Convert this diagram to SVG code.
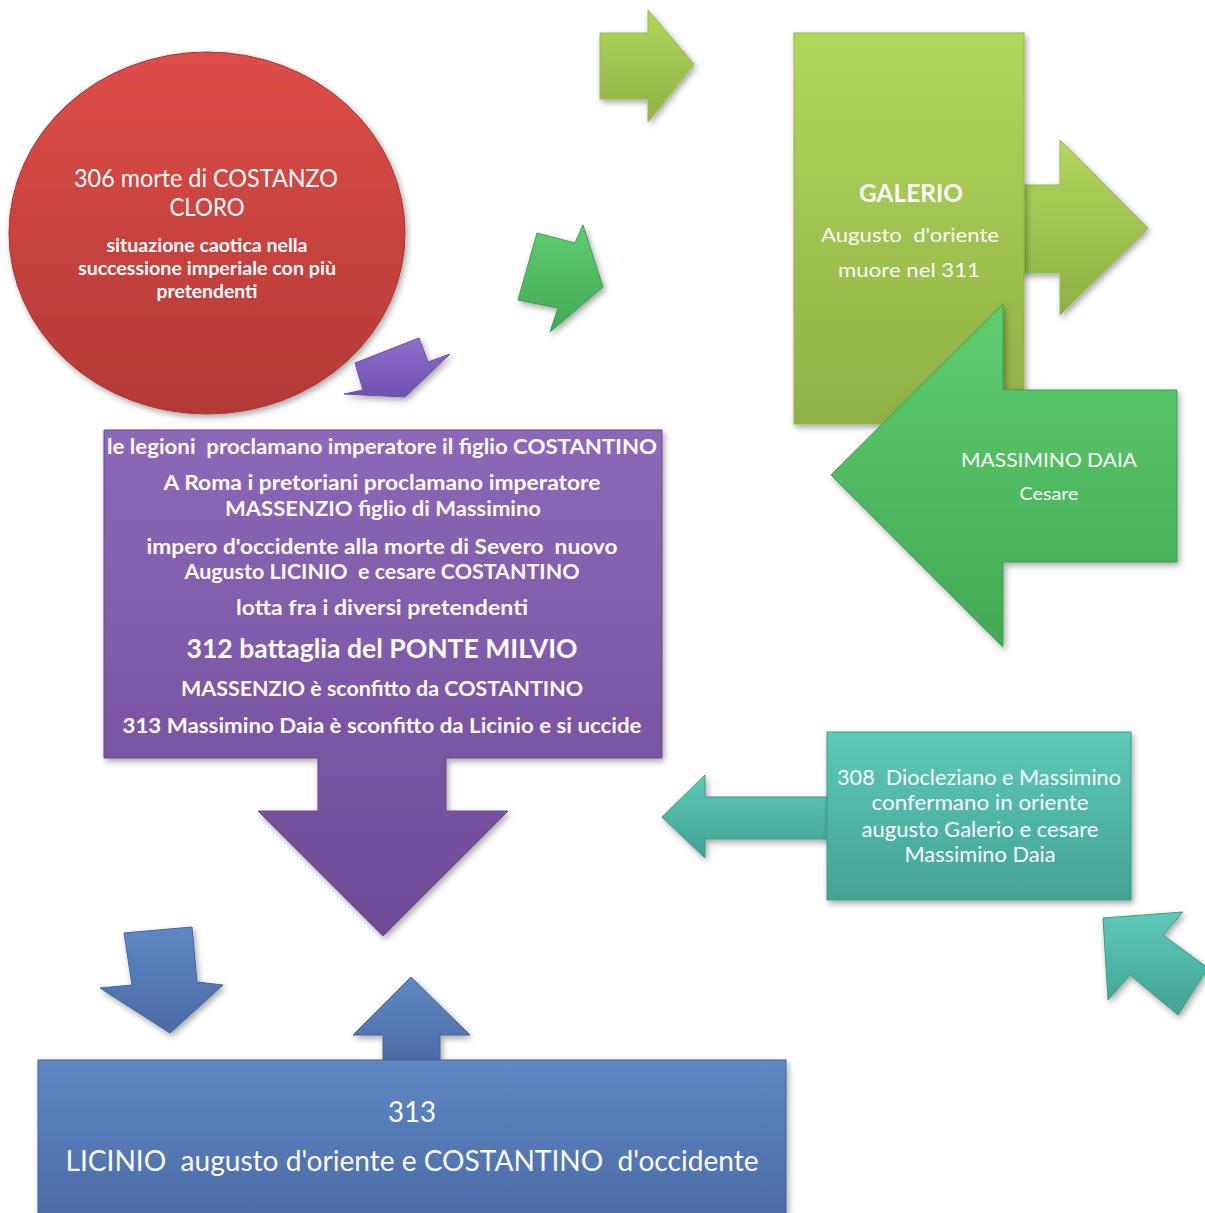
<svg xmlns="http://www.w3.org/2000/svg" width="1205" height="1213" viewBox="0 0 1205 1213">
<defs>
<style>
text{font-family:Lato,"Open Sans","Liberation Sans",sans-serif;fill:#fbfbfb;text-anchor:middle;white-space:pre}
.b{font-weight:bold}
.shape{filter:url(#sh)}
</style>
<filter id="sh" x="-20%" y="-20%" width="140%" height="140%">
<feDropShadow dx="2" dy="3" stdDeviation="3" flood-color="#000" flood-opacity="0.35"/>
</filter>
<linearGradient id="gRed" x1="0" y1="0" x2="0" y2="1"><stop offset="0" stop-color="#de4d49"/><stop offset="1" stop-color="#b33936"/></linearGradient>
<linearGradient id="gLime" x1="0" y1="0" x2="0" y2="1"><stop offset="0" stop-color="#b1d85c"/><stop offset="1" stop-color="#8fb046"/></linearGradient>
<linearGradient id="gGreen" x1="0" y1="0" x2="0" y2="1"><stop offset="0" stop-color="#5fcd70"/><stop offset="1" stop-color="#43a954"/></linearGradient>
<linearGradient id="gPurple" x1="0" y1="0" x2="0" y2="1"><stop offset="0" stop-color="#8d68b8"/><stop offset="1" stop-color="#6e4a96"/></linearGradient>
<linearGradient id="gViolet" x1="0" y1="0" x2="0" y2="1"><stop offset="0" stop-color="#8e70cc"/><stop offset="1" stop-color="#7050b0"/></linearGradient>
<linearGradient id="gTeal" x1="0" y1="0" x2="0" y2="1"><stop offset="0" stop-color="#5ecab9"/><stop offset="1" stop-color="#43a293"/></linearGradient>
<linearGradient id="gBlue" x1="0" y1="0" x2="0" y2="1"><stop offset="0" stop-color="#5f88c4"/><stop offset="1" stop-color="#4b6aa5"/></linearGradient>
</defs>
<rect width="1205" height="1213" fill="#ffffff"/>

<g id="connectors">
<polygon class="shape" points="600,33 648,33 648,10 694,64 648,122 648,99 600,99" fill="url(#gLime)" stroke="#9aba4f" stroke-width="1"/>
<polygon class="shape" points="537,233 575,243 583,225 603,287 550,332 558,308 518,300" fill="url(#gGreen)" stroke="#3e9f50" stroke-width="1"/>
<polygon class="shape" points="344,394 363,390 355,363 419,338 428,362 450,354 405,397" fill="url(#gViolet)" stroke="#6c50a8" stroke-width="1"/>
<polygon class="shape" points="1103,918 1183,912 1163,935 1208,968 1178,1015 1130,975 1108,1000" fill="url(#gTeal)" stroke="#3f9a8c" stroke-width="1"/>
<polygon class="shape" points="124,933 192,927 197,982 223,985 170,1033 100,988 132,985" fill="url(#gBlue)" stroke="#44639c" stroke-width="1"/>
</g>

<g id="node-costanzo">
<ellipse class="shape" cx="207" cy="233" rx="198" ry="181" fill="url(#gRed)" stroke="#a83532" stroke-width="1"/>
<text x="206" y="187" font-size="25" textLength="264" lengthAdjust="spacingAndGlyphs">306 morte di COSTANZO</text>
<text x="207" y="216" font-size="25" textLength="75" lengthAdjust="spacingAndGlyphs">CLORO</text>
<text class="b" x="207" y="252" font-size="19" textLength="201" lengthAdjust="spacingAndGlyphs">situazione caotica nella</text>
<text class="b" x="207" y="275" font-size="19" textLength="258" lengthAdjust="spacingAndGlyphs">successione imperiale con più</text>
<text class="b" x="207" y="298" font-size="19" textLength="101" lengthAdjust="spacingAndGlyphs">pretendenti</text>
</g>

<g id="node-galerio">
<polygon class="shape" points="1010,185 1060,185 1060,140 1148,228 1060,315 1060,273 1010,273" fill="url(#gLime)" stroke="#9aba4f" stroke-width="1"/>
<rect class="shape" x="794" y="33" width="230" height="391" fill="url(#gLime)" stroke="#93b34a" stroke-width="1"/>
<text class="b" x="911" y="202" font-size="25" textLength="104" lengthAdjust="spacingAndGlyphs">GALERIO</text>
<text x="910" y="242" font-size="20" textLength="178" lengthAdjust="spacingAndGlyphs">Augusto  d'oriente</text>
<text x="909" y="277" font-size="20" textLength="142" lengthAdjust="spacingAndGlyphs">muore nel 311</text>
</g>

<g id="node-massimino">
<polygon class="shape" points="831,475 1003,304 1003,390 1177,390 1177,562 1003,562 1003,647" fill="url(#gGreen)" stroke="#3f9f50" stroke-width="1"/>
<text x="1049" y="467" font-size="20" textLength="176" lengthAdjust="spacingAndGlyphs">MASSIMINO DAIA</text>
<text x="1049" y="500" font-size="18" textLength="59" lengthAdjust="spacingAndGlyphs">Cesare</text>
</g>

<g id="node-costantino">
<path class="shape" d="M104,430 H662 V758 H446 V811 H508 L383,936 L258,811 H318 V758 H104 Z" fill="url(#gPurple)" stroke="#6a4990" stroke-width="1"/>
<text class="b" x="382" y="454" font-size="20" textLength="550" lengthAdjust="spacingAndGlyphs">le legioni  proclamano imperatore il figlio COSTANTINO</text>
<text class="b" x="382" y="490" font-size="20" textLength="437" lengthAdjust="spacingAndGlyphs">A Roma i pretoriani proclamano imperatore</text>
<text class="b" x="383" y="516" font-size="20" textLength="316" lengthAdjust="spacingAndGlyphs">MASSENZIO figlio di Massimino</text>
<text class="b" x="382" y="554" font-size="20" textLength="471" lengthAdjust="spacingAndGlyphs">impero d'occidente alla morte di Severo  nuovo</text>
<text class="b" x="382" y="579" font-size="20" textLength="395" lengthAdjust="spacingAndGlyphs">Augusto LICINIO  e cesare COSTANTINO</text>
<text class="b" x="382" y="615" font-size="20" textLength="292" lengthAdjust="spacingAndGlyphs">lotta fra i diversi pretendenti</text>
<text class="b" x="382" y="658" font-size="26" textLength="391" lengthAdjust="spacingAndGlyphs">312 battaglia del PONTE MILVIO</text>
<text class="b" x="382" y="696" font-size="20" textLength="402" lengthAdjust="spacingAndGlyphs">MASSENZIO è sconfitto da COSTANTINO</text>
<text class="b" x="382" y="733" font-size="20" textLength="519" lengthAdjust="spacingAndGlyphs">313 Massimino Daia è sconfitto da Licinio e si uccide</text>
</g>

<g id="node-diocleziano">
<polygon class="shape" points="830,797 705,797 705,775 662,817 705,858 705,839 830,839" fill="url(#gTeal)" stroke="#3f9a8c" stroke-width="1"/>
<rect class="shape" x="827" y="732" width="304" height="168" fill="url(#gTeal)" stroke="#3f9a8c" stroke-width="1"/>
<text x="979" y="785" font-size="21" textLength="284" lengthAdjust="spacingAndGlyphs">308  Diocleziano e Massimino</text>
<text x="980" y="810" font-size="21" textLength="217" lengthAdjust="spacingAndGlyphs">confermano in oriente</text>
<text x="980" y="837" font-size="21" textLength="237" lengthAdjust="spacingAndGlyphs">augusto Galerio e cesare</text>
<text x="980" y="862" font-size="21" textLength="151" lengthAdjust="spacingAndGlyphs">Massimino Daia</text>
</g>

<g id="node-licinio">
<polygon class="shape" points="383,1065 383,1035 353,1035 411,977 470,1035 440,1035 440,1065" fill="url(#gBlue)" stroke="#44639c" stroke-width="1"/>
<rect class="shape" x="38" y="1060" width="748" height="160" fill="url(#gBlue)" stroke="#44639c" stroke-width="1"/>
<text x="412" y="1122" font-size="28" textLength="48" lengthAdjust="spacingAndGlyphs">313</text>
<text x="412" y="1171" font-size="28" textLength="693" lengthAdjust="spacingAndGlyphs">LICINIO  augusto d'oriente e COSTANTINO  d'occidente</text>
</g>
</svg>
